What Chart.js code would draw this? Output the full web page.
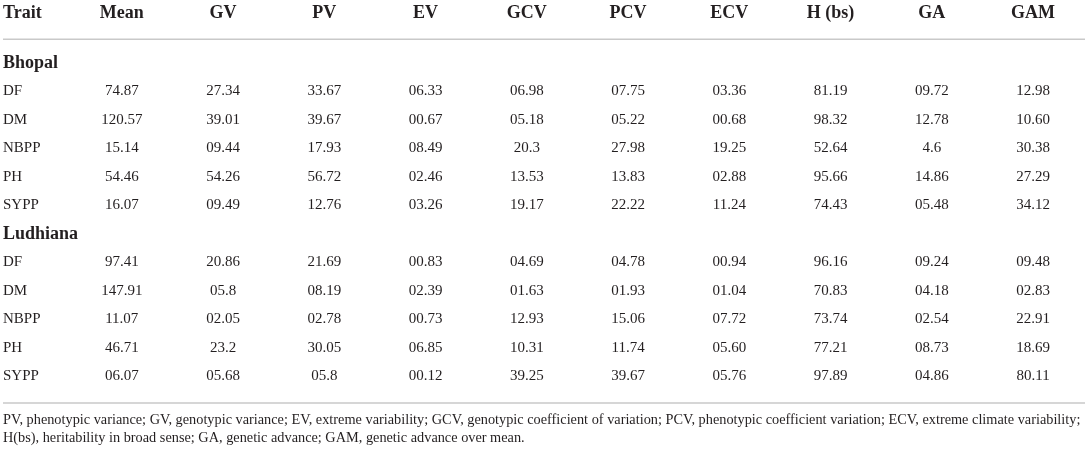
<html>
<head>
    <meta charset="utf8">
    <title>Trait variability - Bhopal and Ludhiana</title>
    <style>
        body { margin:0; background:#fff; }
        #TableChart { display:block; }
    </style>
</head>
<body>
    <canvas id="TableChart" width="1089" height="451"></canvas>
    <script src="https://cdn.jsdelivr.net/npm/chart.js@4.4.1/dist/chart.umd.min.js"></script>
    <script>
        var columns = ['Mean','GV','PV','EV','GCV','PCV','ECV','H (bs)','GA','GAM'];
        var traits = ['DF','DM','NBPP','PH','SYPP'];
        var locations = ['Bhopal','Ludhiana'];

        // kept as text so that leading zeros stay as printed
        var bhopalDF   = ['74.87','27.34','33.67','06.33','06.98','07.75','03.36','81.19','09.72','12.98'];
        var bhopalDM   = ['120.57','39.01','39.67','00.67','05.18','05.22','00.68','98.32','12.78','10.60'];
        var bhopalNBPP = ['15.14','09.44','17.93','08.49','20.3','27.98','19.25','52.64','4.6','30.38'];
        var bhopalPH   = ['54.46','54.26','56.72','02.46','13.53','13.83','02.88','95.66','14.86','27.29'];
        var bhopalSYPP = ['16.07','09.49','12.76','03.26','19.17','22.22','11.24','74.43','05.48','34.12'];

        var ludhianaDF   = ['97.41','20.86','21.69','00.83','04.69','04.78','00.94','96.16','09.24','09.48'];
        var ludhianaDM   = ['147.91','05.8','08.19','02.39','01.63','01.93','01.04','70.83','04.18','02.83'];
        var ludhianaNBPP = ['11.07','02.05','02.78','00.73','12.93','15.06','07.72','73.74','02.54','22.91'];
        var ludhianaPH   = ['46.71','23.2','30.05','06.85','10.31','11.74','05.60','77.21','08.73','18.69'];
        var ludhianaSYPP = ['06.07','05.68','05.8','00.12','39.25','39.67','05.76','97.89','04.86','80.11'];

        var footnote = [
            'PV, phenotypic variance; GV, genotypic variance; EV, extreme variability; GCV, genotypic coefficient of variation; PCV, phenotypic coefficient variation; ECV, extreme climate variability;',
            'H(bs), heritability in broad sense; GA, genetic advance; GAM, genetic advance over mean.'
        ];

        var blocks = [
            [bhopalDF, bhopalDM, bhopalNBPP, bhopalPH, bhopalSYPP],
            [ludhianaDF, ludhianaDM, ludhianaNBPP, ludhianaPH, ludhianaSYPP]
        ];

        var ink = '#231f20';
        var rule = '#c9c9c9';
        var serif = '"Liberation Serif", "DejaVu Serif", serif';

        // row layout: a location title, then its trait rows
        var groupRows = [];
        var traitRows = [];
        var row = 0;
        locations.forEach(function(loc, b){
            groupRows.push({name: loc, y: row});
            row++;
            traits.forEach(function(t, k){
                traitRows.push({name: t, y: row, values: blocks[b][k]});
                row++;
            });
        });

        var datasets = columns.map(function(col, c){
            return {
                label: col,
                data: traitRows.map(function(r){ return {x: c + 1, y: r.y, v: r.values[c]}; }),
                pointRadius: 0,
                pointHoverRadius: 0,
                showLine: false
            };
        });
        datasets.unshift({
            label: 'Trait',
            data: traitRows.map(function(r){ return {x: 0, y: r.y, v: r.name}; }),
            pointRadius: 0,
            pointHoverRadius: 0,
            showLine: false
        });

        // rows outside the data grid (in y-scale units)
        var HEAD_ROW = -1.75, TOP_RULE = -0.83, BOTTOM_RULE = 11.93, NOTE_ROWS = [12.53, 13.16];

        var tableText = {
            id: 'tableText',
            afterDatasetsDraw: function(chart){
                var ctx = chart.ctx, xs = chart.scales.x, ys = chart.scales.y, area = chart.chartArea;
                ctx.save();
                ctx.fillStyle = ink;
                ctx.textBaseline = 'middle';

                // header
                ctx.font = 'bold 18px ' + serif;
                ctx.textAlign = 'left';
                ctx.fillText('Trait', area.left, ys.getPixelForValue(HEAD_ROW));
                ctx.textAlign = 'center';
                columns.forEach(function(col, c){
                    ctx.fillText(col, xs.getPixelForValue(c + 1), ys.getPixelForValue(HEAD_ROW));
                });

                // rules
                ctx.strokeStyle = rule;
                ctx.lineWidth = 1.5;
                [TOP_RULE, BOTTOM_RULE].forEach(function(r){
                    var y = ys.getPixelForValue(r);
                    ctx.beginPath();
                    ctx.moveTo(area.left, y);
                    ctx.lineTo(area.right, y);
                    ctx.stroke();
                });

                // location titles
                ctx.font = 'bold 18px ' + serif;
                ctx.textAlign = 'left';
                groupRows.forEach(function(g){
                    ctx.fillText(g.name, area.left, ys.getPixelForValue(g.y));
                });

                // cells
                ctx.font = '15px ' + serif;
                chart.data.datasets.forEach(function(ds, di){
                    var meta = chart.getDatasetMeta(di);
                    ctx.textAlign = di === 0 ? 'left' : 'center';
                    meta.data.forEach(function(pt, j){
                        var x = di === 0 ? area.left : pt.x;
                        ctx.fillText(ds.data[j].v, x, pt.y);
                    });
                });

                // footnote
                ctx.font = '14.3px ' + serif;
                ctx.textAlign = 'left';
                footnote.forEach(function(line, i){
                    ctx.fillText(line, area.left, ys.getPixelForValue(NOTE_ROWS[i]));
                });
                ctx.restore();
            }
        };

        window.onload = function(){
            new Chart(document.getElementById('TableChart'), {
                type: 'scatter',
                data: { datasets: datasets },
                options: {
                    responsive: false,
                    animation: false,
                    events: [],
                    layout: { padding: { left: 3, right: 4, top: 0, bottom: 0 } },
                    plugins: {
                        legend: { display: false },
                        title: { display: false },
                        tooltip: { enabled: false }
                    },
                    scales: {
                        x: { type: 'linear', display: false, min: -0.1728, max: 10.5125 },
                        y: { type: 'linear', display: false, reverse: true, min: -2.2105, max: 13.614 }
                    }
                },
                plugins: [tableText]
            });
        };
    </script>
</body>
</html>
